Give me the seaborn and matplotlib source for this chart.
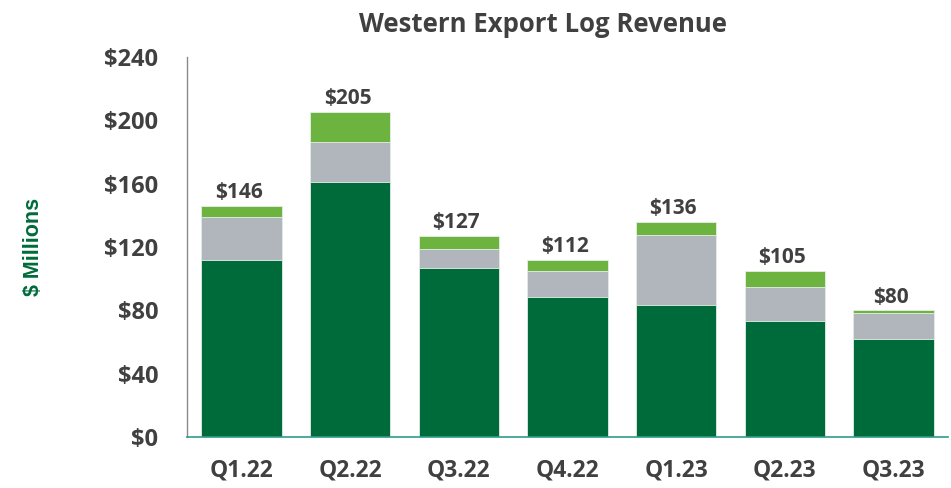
import pandas as pd
import numpy as np
import matplotlib
matplotlib.use("Agg")
import matplotlib.pyplot as plt
import seaborn as sns

# values ($ millions)
quarters = ["Q1.22", "Q2.22", "Q3.22", "Q4.22", "Q1.23", "Q2.23", "Q3.23"]
dark_seg = [112, 161, 107, 88.5, 83.5, 73.5, 62]
gray_seg = [27, 25.5, 11.5, 16.5, 44, 21.5, 16.5]
light_seg = [7, 18.5, 8.5, 7, 8.5, 10, 1.5]
totals = [146, 205, 127, 112, 136, 105, 80]

DARK = "#006B3A"
GRAY = "#B0B6BC"
LIGHT = "#6DB33F"
TEXT = "#404040"
TEAL = "#2E9C8A"

sns.set_style("white")
plt.rcParams["font.family"] = ["Open Sans", "DejaVu Sans"]

df = pd.DataFrame({"Quarter": quarters, "dark": dark_seg, "gray": gray_seg, "light": light_seg})
df["top_gray"] = df["dark"] + df["gray"]
df["top_light"] = df["top_gray"] + df["light"]

fig = plt.figure(figsize=(9.51, 4.88), dpi=100)
ax = fig.add_axes([0.197, 0.1039, 0.7995, 0.7799])

# stacked by layering cumulative bars
bw = 0.74
sns.barplot(data=df, x="Quarter", y="top_light", color=LIGHT, width=bw, saturation=1,
            edgecolor="#e6efe6", linewidth=0.6, ax=ax)
sns.barplot(data=df, x="Quarter", y="top_gray", color=GRAY, width=bw, saturation=1,
            edgecolor="#e6efe6", linewidth=0.6, ax=ax)
sns.barplot(data=df, x="Quarter", y="dark", color=DARK, width=bw, saturation=1,
            edgecolor="#e6efe6", linewidth=0.6, ax=ax)

# total labels
for i, (h, t) in enumerate(zip(df["top_light"], totals)):
    ax.annotate(f"${t}", (i, h), xytext=(-2, 2), textcoords="offset points",
                ha="center", va="bottom", fontsize=15, fontweight="bold", color=TEXT)

ax.set_ylim(0, 240)
ax.set_xlim(-0.5, len(quarters) - 0.5)
ax.set_yticks(np.arange(0, 241, 40))
ax.set_yticklabels([f"${v}" for v in range(0, 241, 40)])
ax.set_xlabel("")
ax.set_ylabel("")

for s in ["top", "right"]:
    ax.spines[s].set_visible(False)
ax.spines["left"].set_color("#8a8a8a")
ax.spines["left"].set_linewidth(1)
ax.spines["bottom"].set_color(TEAL)
ax.spines["bottom"].set_linewidth(1.2)

ax.tick_params(axis="y", which="major", direction="out", length=5, width=1, color="#8a8a8a",
               labelsize=17, labelcolor=TEXT, pad=16)
ax.tick_params(axis="x", which="major", length=0, labelsize=16.5, labelcolor=TEXT, pad=15)
ax.set_xticks(np.arange(-0.5, len(quarters), 1), minor=True)
ax.tick_params(axis="x", which="minor", direction="out", length=6, width=1.2, color=TEAL)
for lab in ax.get_xticklabels() + ax.get_yticklabels():
    lab.set_fontweight("bold")

fig.text(0.035, 0.494, "$ Millions", rotation=90, ha="center", va="center",
         fontsize=15.5, fontweight="bold", color=DARK, family=["Liberation Sans", "DejaVu Sans"])
fig.text(0.571, 0.949, "Western Export Log Revenue", ha="center", va="center",
         fontsize=18.5, fontweight="bold", color=TEXT)

fig.savefig("out.png", dpi=100)
